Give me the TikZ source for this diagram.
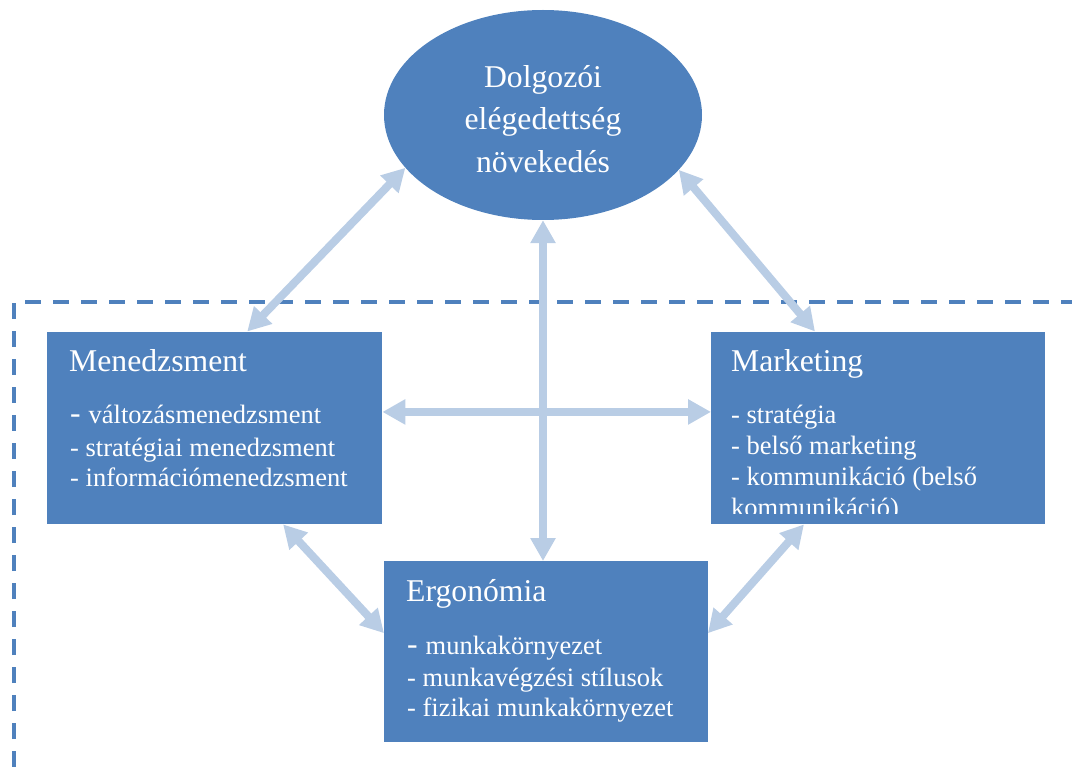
\documentclass[tikz,border=0pt]{standalone}
\usepackage{fontspec}
\setmainfont{Liberation Serif}
\usetikzlibrary{arrows.meta,calc,shapes.geometric}
\definecolor{boxblue}{HTML}{4F81BD}
\definecolor{arrowblue}{HTML}{B9CDE5}

\newcommand{\titlefont}{\fontsize{31.7}{42.5}\selectfont}
\newcommand{\itemfont}{\fontsize{26.5}{30}\selectfont}
\newcommand{\bigdash}{{\fontsize{31.7}{30}\selectfont- }}

\begin{document}
\begin{tikzpicture}[x=1pt,y=-1pt,
  box/.style={fill=boxblue, draw=none, inner sep=0pt, anchor=north west},
  boxtitle/.style={anchor=base west, inner sep=0pt, text=white, font=\titlefont},
  boxlist/.style={anchor=base west, inner sep=0pt, text=white, font=\itemfont},
  conn/.style={draw=arrowblue, line width=8pt,
    {Triangle[length=23pt,width=24pt]}-{Triangle[length=23pt,width=24pt]}},
  frame/.style={draw=boxblue, line width=3.5pt, dash pattern=on 16pt off 12pt}]

\useasboundingbox (0,0) rectangle (1072,767);

% dashed frame around the three fields
\coordinate (frame-bottom) at (14,767);
\coordinate (frame-corner) at (14,302);
\coordinate (frame-right) at (1072,302);
\draw[frame] (frame-bottom) -- (frame-corner) -- (frame-right);

% goal (the strut on the first line lowers the text block a little)
\node[ellipse, fill=boxblue, minimum width=318pt, minimum height=210pt,
      inner sep=0pt, text=white, align=center, font=\titlefont]
      (goal) at (543,115) {\rule{0pt}{30pt}Dolgozói\\elégedettség\\növekedés};

% the three fields
\node[box, minimum width=335pt, minimum height=192.5pt] (mgmt) at (47,331.5) {};
\node[box, minimum width=334pt, minimum height=192.5pt] (mkt) at (711,331.5) {};
\node[box, minimum width=323.5pt, minimum height=181pt] (ergo) at (384,561) {};

\node[boxtitle] (mgmt-title) at (69,371.7) {Menedzsment};
\node[boxlist] (mgmt-list) at (70,424) {\begin{tabular}[t]{@{}l@{}}%
  \bigdash változásmenedzsment\\[2.5pt]
  - stratégiai menedzsment\\
  - információmenedzsment\end{tabular}};

\node[boxtitle] (mkt-title) at (731,371.7) {Marketing};
\begin{scope}
  \clip (mkt.north west) rectangle ($(mkt.south east)+(0,-11)$);
  \node[boxlist] (mkt-list) at (731,424) {\begin{tabular}[t]{@{}l@{}}%
    - stratégia\\[1pt]
    - belső marketing\\[1pt]
    - kommunikáció (belső\\[1pt]
    kommunikáció)\end{tabular}};
\end{scope}

\node[boxtitle] (ergo-title) at (406,601.7) {Ergonómia};
\node[boxlist] (ergo-list) at (407,654) {\begin{tabular}[t]{@{}l@{}}%
  \bigdash munkakörnyezet\\[2.5pt]
  - munkavégzési stílusok\\
  - fizikai munkakörnyezet\end{tabular}};

% two-way relations
\draw[conn] (goal.201) -- ($(mgmt.north west)!0.597!(mgmt.north east)$);
\draw[conn] (goal.338) -- ($(mkt.north west)!0.311!(mkt.north east)$);
\draw[conn] (goal.south) -- (goal.south |- ergo.north);
\draw[conn] ($(mgmt.north east)!0.417!(mgmt.south east)$)
         -- ($(mkt.north west)!0.417!(mkt.south west)$);
\draw[conn] ($(mgmt.south west)!0.704!(mgmt.south east)$)
         -- ($(ergo.north west)!0.398!(ergo.south west)$);
\draw[conn] ($(mkt.south west)!0.278!(mkt.south east)$)
         -- ($(ergo.north east)!0.398!(ergo.south east)$);
\end{tikzpicture}
\end{document}
